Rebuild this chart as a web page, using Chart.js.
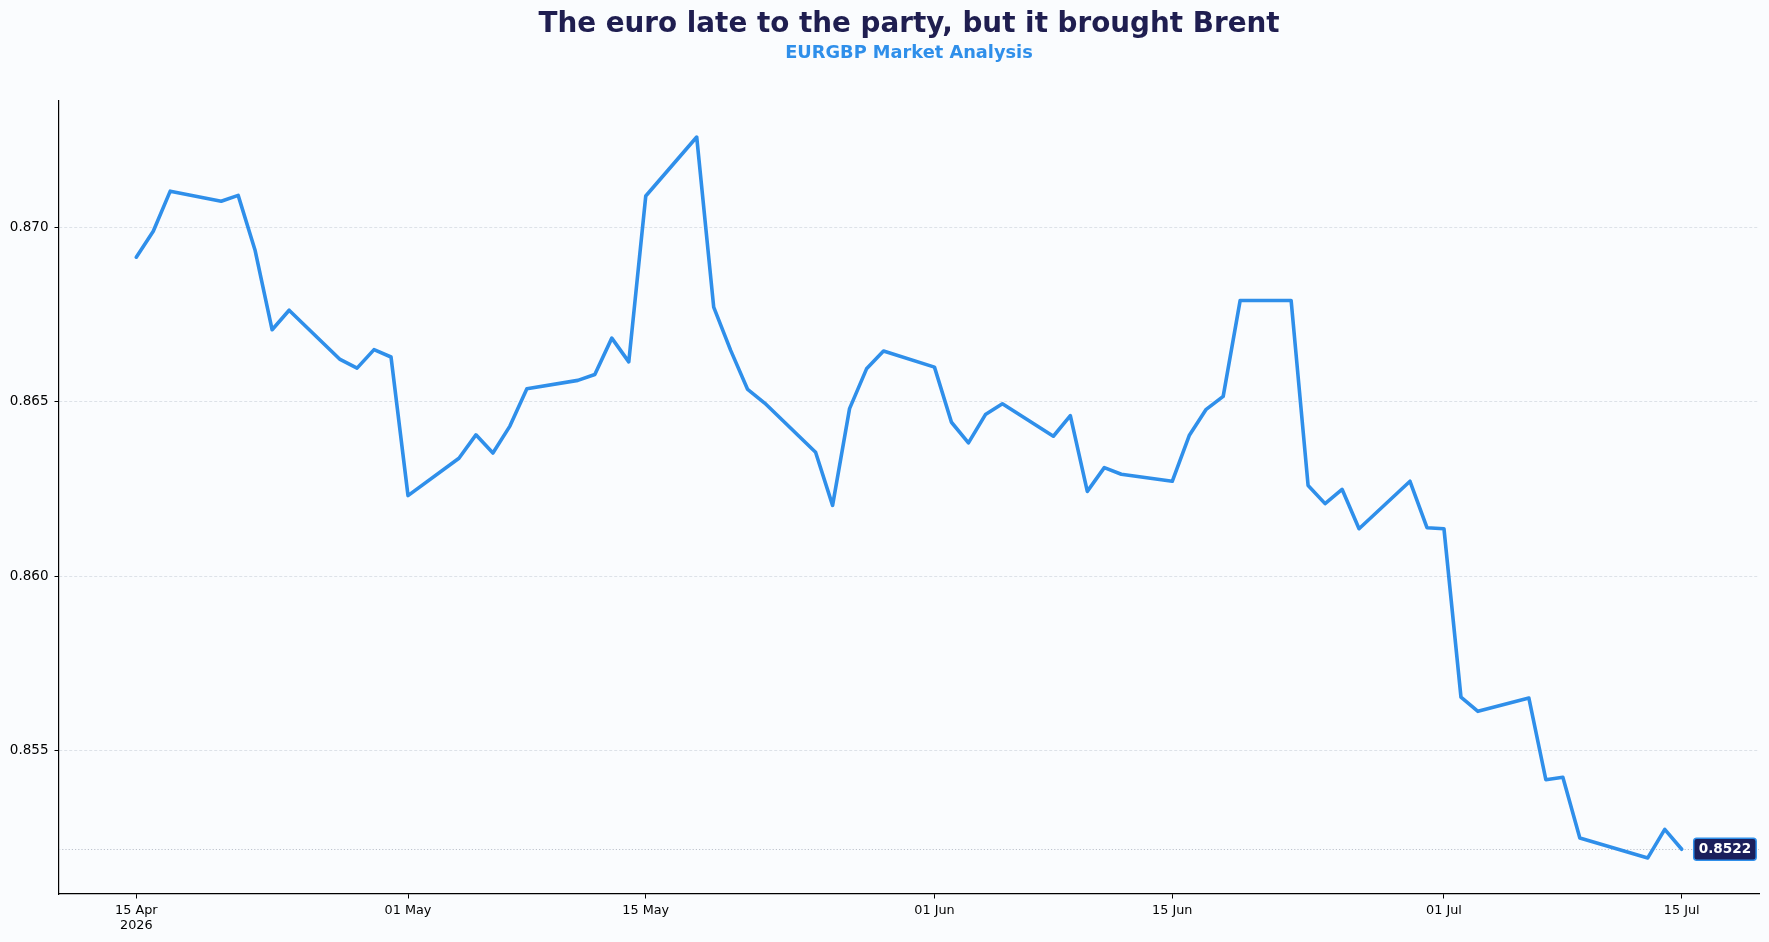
<!DOCTYPE html>
<html><head><meta charset="utf-8">
<script src="https://cdn.jsdelivr.net/npm/chart.js@4.4.1/dist/chart.umd.min.js"></script>
<style>
html,body{margin:0;padding:0;background:#FAFCFE;}
canvas{display:block;}
</style></head><body>
<canvas id="c" width="1769" height="942"></canvas>
<script>
const titleText = 'The euro late to the party, but it brought Brent';
const subtitleText = 'EURGBP Market Analysis';

const dates = [
 '2026-04-15','2026-04-16','2026-04-17','2026-04-20','2026-04-21','2026-04-22','2026-04-23','2026-04-24',
 '2026-04-27','2026-04-28','2026-04-29','2026-04-30','2026-05-01',
 '2026-05-04','2026-05-05','2026-05-06','2026-05-07','2026-05-08',
 '2026-05-11','2026-05-12','2026-05-13','2026-05-14','2026-05-15',
 '2026-05-18','2026-05-19','2026-05-20','2026-05-21','2026-05-22',
 '2026-05-25','2026-05-26','2026-05-27','2026-05-28','2026-05-29',
 '2026-06-01','2026-06-02','2026-06-03','2026-06-04','2026-06-05',
 '2026-06-08','2026-06-09','2026-06-10','2026-06-11','2026-06-12',
 '2026-06-15','2026-06-16','2026-06-17','2026-06-18','2026-06-19',
 '2026-06-22','2026-06-23','2026-06-24','2026-06-25','2026-06-26',
 '2026-06-29','2026-06-30','2026-07-01','2026-07-02','2026-07-03',
 '2026-07-06','2026-07-07','2026-07-08','2026-07-09','2026-07-10',
 '2026-07-13','2026-07-14','2026-07-15'
];
const eurgbp = [
 0.86914,0.86988,0.87103,0.87074,0.87091,0.86933,0.86706,0.86762,
 0.86621,0.86596,0.86649,0.86628,0.86231,
 0.86338,0.86405,0.86353,0.86430,0.86537,
 0.86561,0.86578,0.86682,0.86614,0.87089,
 0.87258,0.86771,0.86647,0.86535,0.86496,
 0.86355,0.86203,0.86480,0.86594,0.86645,
 0.86599,0.86441,0.86382,0.86463,0.86494,
 0.86401,0.86460,0.86243,0.86311,0.86292,
 0.86272,0.86403,0.86478,0.86515,0.86790,
 0.86790,0.86260,0.86208,0.86249,0.86136,
 0.86272,0.86139,0.86136,0.85654,0.85613,
 0.85651,0.85417,0.85424,0.85250,0.85236,
 0.85193,0.85275,0.85218
];
const xTickDates = ['2026-04-15','2026-05-01','2026-05-15','2026-06-01','2026-06-15','2026-07-01','2026-07-15'];
const xTickLabels = [['15 Apr','2026'],'01 May','15 May','01 Jun','15 Jun','01 Jul','15 Jul'];
const yTicks = [0.855, 0.860, 0.865, 0.870];

const dayNum = s => Date.parse(s + 'T00:00:00Z') / 86400000;
const points = dates.map((d, i) => ({x: dayNum(d), y: eurgbp[i]}));
const xs = points.map(p => p.x), ys = eurgbp;
const xMinD = Math.min(...xs), xMaxD = Math.max(...xs);
const yMinD = Math.min(...ys), yMaxD = Math.max(...ys);
const xPad = (xMaxD - xMinD) * 0.05, yPad = (yMaxD - yMinD) * 0.05;

const LINE = '#2f8fea';
const NAVY = '#1f1e50';
const FONT = '"DejaVu Sans", "Liberation Sans", sans-serif';

Chart.defaults.font.family = FONT;
Chart.defaults.color = '#000';

const annot = {
  id: 'annot',
  beforeDatasetsDraw(chart) {
    const {ctx, chartArea: a, scales: {y}} = chart;
    const last = eurgbp[eurgbp.length - 1];
    const py = Math.round(y.getPixelForValue(last)) + 0.5;
    ctx.save();
    ctx.strokeStyle = '#b5bcc7';
    ctx.lineWidth = 0.9;
    ctx.setLineDash([1.2, 2]);
    ctx.beginPath(); ctx.moveTo(a.left, py); ctx.lineTo(a.right, py); ctx.stroke();
    ctx.restore();
  },
  afterDraw(chart) {
    const {ctx, chartArea: a, scales: {x, y}} = chart;
    const cx = (a.left + a.right) / 2;
    ctx.save();
    ctx.textAlign = 'center';
    ctx.textBaseline = 'alphabetic';
    ctx.fillStyle = NAVY;
    ctx.font = 'bold 27.8px ' + FONT;
    ctx.fillText(titleText, cx, 31.7);
    ctx.fillStyle = LINE;
    ctx.font = 'bold 17.8px ' + FONT;
    ctx.fillText(subtitleText, cx, 57.7);

    // last value label
    const li = eurgbp.length - 1;
    const px = x.getPixelForValue(points[li].x);
    const py = y.getPixelForValue(eurgbp[li]);
    const txt = eurgbp[li].toFixed(4);
    ctx.font = 'bold 13.6px ' + FONT;
    const tw = ctx.measureText(txt).width;
    const bw = tw + 10, bh = 22;
    const bx = px + 12, by = py - bh / 2;
    ctx.beginPath();
    if (ctx.roundRect) ctx.roundRect(bx, by, bw, bh, 3); else ctx.rect(bx, by, bw, bh);
    ctx.fillStyle = '#1b1f5c';
    ctx.fill();
    ctx.lineWidth = 1.5;
    ctx.strokeStyle = LINE;
    ctx.stroke();
    ctx.fillStyle = '#ffffff';
    ctx.textBaseline = 'middle';
    ctx.fillText(txt, bx + bw / 2, py + 0.5);
    ctx.restore();
  }
};

new Chart(document.getElementById('c'), {
  type: 'line',
  data: {
    datasets: [{
      label: 'EURGBP',
      data: points,
      borderColor: LINE,
      borderWidth: 3.6,
      pointRadius: 0,
      pointHoverRadius: 0,
      tension: 0,
      fill: false,
      borderJoinStyle: 'round',
      borderCapStyle: 'round'
    }]
  },
  options: {
    responsive: false,
    animation: false,
    devicePixelRatio: 1,
    layout: {padding: {top: 101, right: 10, bottom: 0, left: 0}},
    plugins: {legend: {display: false}, tooltip: {enabled: false}, title: {display: false}},
    scales: {
      x: {
        type: 'linear',
        min: xMinD - xPad,
        max: xMaxD + xPad,
        afterBuildTicks: s => { s.ticks = xTickDates.map(d => ({value: dayNum(d)})); },
        afterFit: s => { s.height = 48; },
        ticks: {
          autoSkip: false, maxRotation: 0, minRotation: 0, padding: 4,
          font: {size: 12.8}, color: '#000',
          callback: (v, i) => xTickLabels[i]
        },
        grid: {display: true, drawOnChartArea: false, drawTicks: true, tickLength: 4.5, tickColor: '#000', tickWidth: 1},
        border: {display: true, color: '#000', width: 1.2}
      },
      y: {
        type: 'linear',
        min: yMinD - yPad,
        max: yMaxD + yPad,
        afterBuildTicks: s => { s.ticks = yTicks.map(v => ({value: v})); },
        afterFit: s => { s.width = 59; },
        ticks: {
          padding: 6, font: {size: 13.5}, color: '#000',
          callback: v => Number(v).toFixed(3)
        },
        grid: {display: true, drawOnChartArea: true, color: '#d6dbe2', lineWidth: 0.8, drawTicks: true, tickLength: 4.5, tickColor: '#000', tickWidth: 1},
        border: {display: true, color: '#000', width: 1.2, dash: [3, 2]}
      }
    }
  },
  plugins: [annot]
});
</script>
</body></html>
